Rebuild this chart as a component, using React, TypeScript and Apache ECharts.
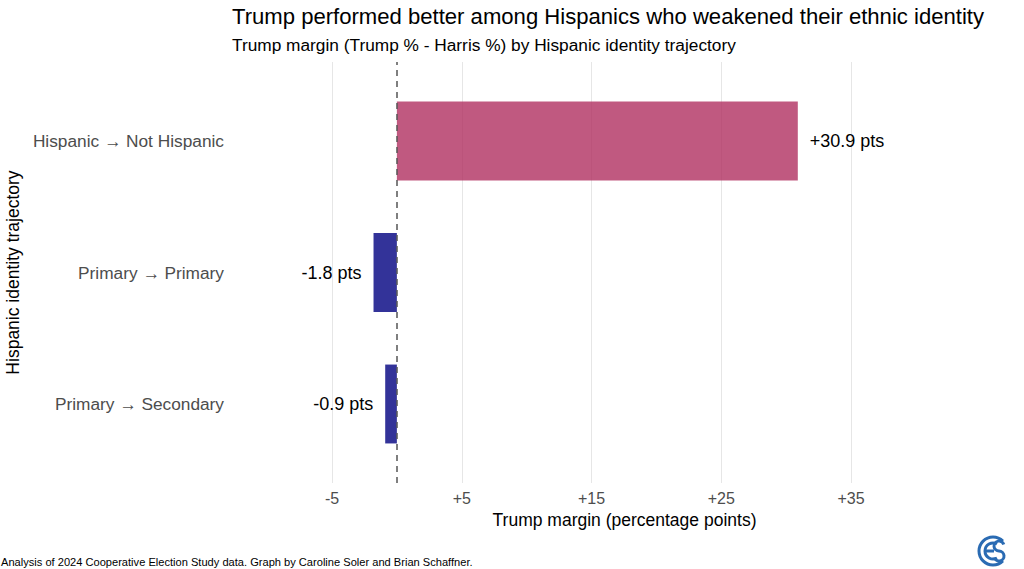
import React, { useEffect, useRef } from "react";
import * as echarts from "echarts";

const categories = [
  "Hispanic \u2192 Not Hispanic",
  "Primary \u2192 Primary",
  "Primary \u2192 Secondary",
];
const margins = [30.9, -1.8, -0.9];
const xTicks = [-5, 5, 15, 25, 35];

const TITLE = "Trump performed better among Hispanics who weakened their ethnic identity";
const SUBTITLE = "Trump margin (Trump % - Harris %) by Hispanic identity trajectory";
const CAPTION =
  "Analysis of 2024 Cooperative Election Study data. Graph by Caroline Soler and Brian Schaffner.";
const X_NAME = "Trump margin (percentage points)";
const Y_NAME = "Hispanic identity trajectory";

const FONT = "'Liberation Sans', Arial, Helvetica, sans-serif";

export default function App() {
  const ref = useRef<HTMLDivElement>(null);
  useEffect(() => {
    if (!ref.current) return;
    const chart = echarts.init(ref.current, null, { renderer: "svg" });
    const xMin = xTicks[0];
    const xMax = xTicks[xTicks.length - 1];
    const fmt = (v: number) => (v > 0 ? "+" + v : String(v));
    const gridLeft = 332;
    const gridWidth = 519;
    const logoX = 993;
    const logoY = 551;
    const blue = "#2a6bb3";
    chart.setOption({
      animation: false,
      textStyle: { fontFamily: FONT },
      title: [
        {
          text: TITLE,
          left: 227,
          top: 0,
          textStyle: { fontSize: 22.1, fontWeight: "normal", color: "#000", fontFamily: FONT },
        },
        {
          text: SUBTITLE,
          left: 227,
          top: 31,
          textStyle: { fontSize: 17.3, fontWeight: "normal", color: "#000", fontFamily: FONT },
        },
        {
          text: CAPTION,
          left: -4,
          top: 551,
          textStyle: { fontSize: 11.1, fontWeight: "normal", color: "#000", fontFamily: FONT },
        },
      ],
      grid: [
        { left: gridLeft, width: gridWidth, top: 75.25, height: 394.5, outerBoundsMode: "none", containLabel: false },
        { left: gridLeft, width: gridWidth, top: 62, height: 421, outerBoundsMode: "none", containLabel: false },
      ],
      xAxis: [
        {
          gridIndex: 0,
          type: "value",
          min: xMin,
          max: xMax,
          interval: 10,
          show: false,
          splitLine: { show: false },
        },
        {
          gridIndex: 1,
          type: "value",
          min: xMin,
          max: xMax,
          interval: 10,
          axisLine: { show: false },
          axisTick: { show: false },
          axisLabel: {
            formatter: fmt,
            fontSize: 16,
            color: "#4d4d4d",
            margin: 7,
            fontFamily: FONT,
          },
          splitLine: { show: true, lineStyle: { color: "#e6e6e6", width: 1 } },
          name: X_NAME,
          nameLocation: "middle",
          nameGap: 27,
          nameTextStyle: {
            fontSize: 17.5,
            color: "#000",
            fontFamily: FONT,
            padding: [0, 0, 0, 66],
          },
        },
      ],
      yAxis: [
        {
          gridIndex: 0,
          type: "category",
          data: categories,
          inverse: true,
          axisLine: { show: false },
          axisTick: { show: false },
          splitLine: { show: false },
          axisLabel: { fontSize: 17.3, color: "#4d4d4d", margin: 108, fontFamily: FONT },
          name: Y_NAME,
          nameLocation: "middle",
          nameGap: 309,
          nameRotate: 90,
          nameTextStyle: { fontSize: 17.5, color: "#000", fontFamily: FONT },
        },
        {
          gridIndex: 1,
          type: "value",
          min: 0,
          max: 1,
          show: false,
          splitLine: { show: false },
        },
      ],
      series: [
        {
          type: "bar",
          xAxisIndex: 0,
          yAxisIndex: 0,
          barWidth: "60%",
          z: 2,
          data: margins.map((v) => ({
            value: v,
            itemStyle: { color: v >= 0 ? "rgba(176,48,96,0.8)" : "rgba(0,0,128,0.8)" },
            label: {
              show: true,
              position: v >= 0 ? "right" : "left",
              distance: 12,
              formatter: (v > 0 ? "+" : "") + v.toFixed(1) + " pts",
              fontSize: 18,
              color: "#000",
              fontFamily: FONT,
            },
          })),
        },
        {
          type: "line",
          xAxisIndex: 1,
          yAxisIndex: 1,
          data: [],
          symbol: "none",
          silent: true,
          z: 10,
          markLine: {
            silent: true,
            symbol: "none",
            label: { show: false },
            lineStyle: { color: "#555", type: [6, 5], width: 1.5 },
            data: [{ xAxis: 0 }],
          },
        },
      ],
      graphic: [
        {
          type: "arc",
          shape: { cx: logoX, cy: logoY, r: 14, startAngle: Math.PI / 4, endAngle: (7 * Math.PI) / 4, clockwise: true },
          style: { stroke: blue, lineWidth: 3, fill: "none" },
        },
        {
          type: "arc",
          shape: { cx: logoX, cy: logoY, r: 8, startAngle: Math.PI / 3, endAngle: (5 * Math.PI) / 3, clockwise: true },
          style: { stroke: blue, lineWidth: 3, fill: "none" },
        },
        {
          type: "line",
          shape: { x1: logoX - 8, y1: logoY, x2: logoX + 1, y2: logoY },
          style: { stroke: blue, lineWidth: 3 },
        },
        {
          type: "arc",
          shape: { cx: logoX + 6, cy: logoY - 5, r: 5, startAngle: Math.PI / 2, endAngle: 2 * Math.PI - 0.3, clockwise: true },
          style: { stroke: blue, lineWidth: 3, fill: "none" },
        },
        {
          type: "arc",
          shape: { cx: logoX + 6, cy: logoY + 5, r: 5, startAngle: -Math.PI / 2, endAngle: Math.PI - 0.3, clockwise: true },
          style: { stroke: blue, lineWidth: 3, fill: "none" },
        },
      ],
    });
    return () => chart.dispose();
  }, []);
  return (
    <div
      ref={ref}
      style={{ position: "fixed", left: 0, top: 0, width: 1024, height: 569, background: "#fff" }}
    />
  );
}
